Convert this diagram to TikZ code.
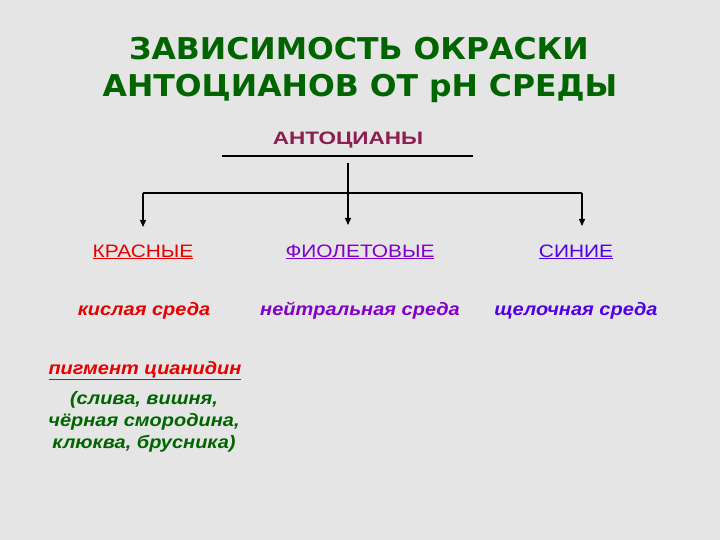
\documentclass[tikz,border=0pt]{standalone}
\usepackage{fontspec}
\setmainfont{Liberation Sans}
\newfontfamily\titlefont[FakeStretch=1.05]{DejaVu Sans}
\newfontfamily\headfont[FakeStretch=1.16]{Liberation Sans}
\newfontfamily\antfont[FakeStretch=1.25]{Liberation Sans}
\newfontfamily\itfont[FakeStretch=1.11]{Liberation Sans}
\usetikzlibrary{arrows.meta}
\definecolor{bgc}{RGB}{229,229,229}
\definecolor{tgreen}{RGB}{0,100,0}
\definecolor{maroonc}{RGB}{140,30,80}
\definecolor{redc}{RGB}{230,0,0}
\definecolor{purplec}{RGB}{130,0,200}
\definecolor{bluec}{RGB}{80,0,230}
\definecolor{greenc}{RGB}{0,100,0}
\tikzset{
  titletext/.style={font=\titlefont\fontsize{30}{36}\selectfont\bfseries, text=tgreen, inner sep=0pt, anchor=base},
  head/.style={font=\headfont\fontsize{18}{20}\selectfont, inner sep=0pt, anchor=base},
  env/.style={font=\itfont\fontsize{18}{22}\selectfont\bfseries\itshape, inner sep=0pt, anchor=base},
  conn/.style={line width=1.3pt, black},
  arr/.style={conn, -{Triangle[length=7pt,width=6pt]}}
}
\begin{document}
\begin{tikzpicture}[x=1pt,y=-1pt]
\fill[bgc] (0,0) rectangle (720,540);
\useasboundingbox (0,0) rectangle (720,540);
\node[titletext] (title1) at (359,60) {ЗАВИСИМОСТЬ ОКРАСКИ};
\node[titletext] (title2) at (360,97) {АНТОЦИАНОВ ОТ pH СРЕДЫ};
\node[head, font=\antfont\fontsize{18}{20}\selectfont\bfseries, text=maroonc] (ant) at (348,145) {АНТОЦИАНЫ};
\coordinate (ulL) at (222,156);
\coordinate (ulR) at (473,156);
\draw[conn] (ulL) -- (ulR);
\coordinate (top) at (348,163);
\coordinate (mid) at (348,193);
\coordinate (L) at (143,193);
\coordinate (R) at (582,193);
\coordinate (Lt) at (143,227);
\coordinate (Mt) at (348,225);
\coordinate (Rt) at (582,226);
\draw[conn] (L) -- (R);
\draw[conn] (top) -- (mid);
\draw[arr] (L) -- (Lt);
\draw[arr] (mid) -- (Mt);
\draw[arr] (R) -- (Rt);
\node[head, text=redc] (red) at (143,257) {\underline{КРАСНЫЕ}};
\node[head, text=purplec] (vio) at (360,257) {\underline{ФИОЛЕТОВЫЕ}};
\node[head, text=bluec] (blue) at (576,257) {\underline{СИНИЕ}};
\node[env, text=redc] (acid) at (144,315) {кислая среда};
\node[env, text=purplec] (neut) at (360,315) {нейтральная среда};
\node[env, text=bluec] (alk) at (576,315) {щелочная среда};
\node[env, text=redc] (pig) at (145,374) {\underline{пигмент цианидин}};
\node[env, text=greenc] (f1) at (144,404) {(слива, вишня,};
\node[env, text=greenc] (f2) at (144,426) {чёрная смородина,};
\node[env, text=greenc] (f3) at (144,448) {клюква, брусника)};
\end{tikzpicture}
\end{document}
